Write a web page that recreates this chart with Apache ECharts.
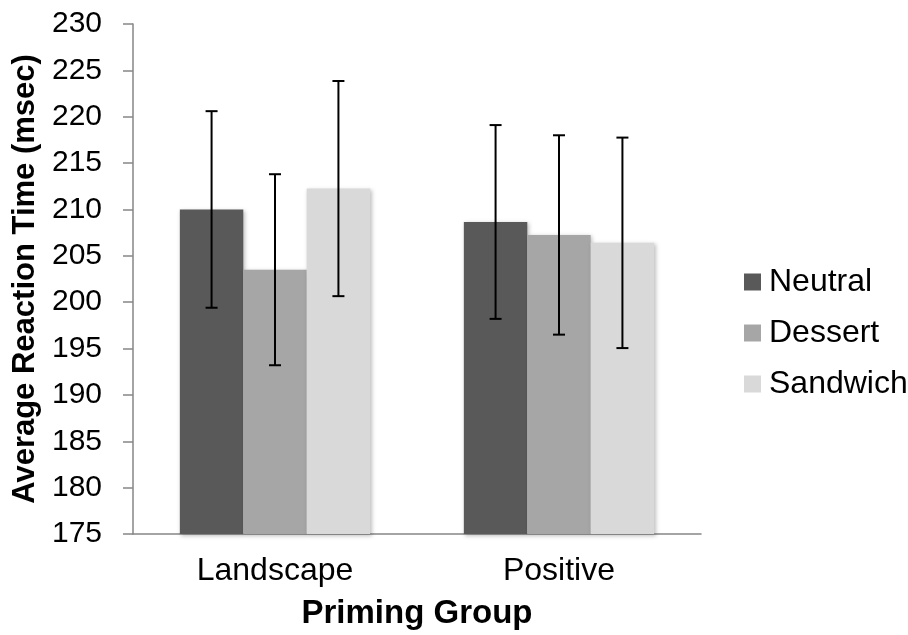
<!DOCTYPE html>
<html>
<head>
<meta charset="utf-8">
<script src="https://cdn.jsdelivr.net/npm/echarts@6/dist/echarts.min.js"></script>
<style>
  html, body { margin: 0; padding: 0; background: #ffffff; }
  #chart { width: 908px; height: 635px; }
</style>
</head>
<body>
<div id="chart"></div>
<script>
// Average reaction time by priming group and food cue
const categories = ['Landscape', 'Positive'];
const seriesNames = ['Neutral', 'Dessert', 'Sandwich'];
const neutral = [210.0, 208.65];
const dessert = [203.5, 207.25];
const sandwich = [212.25, 206.4];
const neutralErr = [10.6, 10.45];
const dessertErr = [10.3, 10.75];
const sandwichErr = [11.6, 11.35];
const yTicks = { min: 175, max: 230, step: 5 };

const colors = ['#595959', '#a6a6a6', '#d9d9d9'];
const means = [neutral, dessert, sandwich];
const errs = [neutralErr, dessertErr, sandwichErr];
const FONT = 'Liberation Sans, Arial, sans-serif';
const GAP = 0.33; // category gap fraction

const chart = echarts.init(document.getElementById('chart'));

const barSeries = seriesNames.map((name, i) => ({
  name: name,
  type: 'bar',
  data: means[i],
  barGap: '0%',
  barCategoryGap: (GAP * 100) + '%',
  itemStyle: {
    color: colors[i],
    shadowColor: 'rgba(0,0,0,0.25)',
    shadowBlur: 4,
    shadowOffsetX: 1.5,
    shadowOffsetY: 1.5
  },
  z: 2
}));

// Error bars drawn at the centre of each grouped bar
const errSeries = seriesNames.map((name, i) => ({
  type: 'custom',
  name: name + ' error',
  data: means[i].map((m, k) => [k, m - errs[i][k], m + errs[i][k]]),
  z: 5,
  silent: true,
  renderItem: function (params, api) {
    const band = api.size([1, 0])[0];
    const barW = band * (1 - GAP) / seriesNames.length;
    const offset = (i - (seriesNames.length - 1) / 2) * barW;
    const lo = api.coord([api.value(0), api.value(1)]);
    const hi = api.coord([api.value(0), api.value(2)]);
    const x = lo[0] + offset;
    const cap = 6;
    const style = { stroke: '#000000', lineWidth: 2, fill: null };
    return {
      type: 'group',
      children: [
        { type: 'line', shape: { x1: x, y1: hi[1], x2: x, y2: lo[1] }, style: style },
        { type: 'line', shape: { x1: x - cap, y1: hi[1], x2: x + cap, y2: hi[1] }, style: style },
        { type: 'line', shape: { x1: x - cap, y1: lo[1], x2: x + cap, y2: lo[1] }, style: style }
      ]
    };
  }
}));

chart.setOption({
  animation: false,
  backgroundColor: '#ffffff',
  textStyle: { fontFamily: FONT },
  grid: { left: 133, right: 207, top: 24, bottom: 101, containLabel: false },
  legend: {
    data: seriesNames.map((n, i) => ({ name: n, itemStyle: { color: colors[i] } })),
    orient: 'vertical',
    left: 744,
    top: 266,
    padding: 0,
    icon: 'rect',
    itemWidth: 17,
    itemHeight: 17,
    itemGap: 19,
    textStyle: { fontFamily: FONT, fontSize: 32, color: '#000000', padding: [0, 0, 0, 3] }
  },
  xAxis: {
    type: 'category',
    data: categories,
    name: 'Priming Group',
    nameLocation: 'middle',
    nameGap: 63,
    nameTextStyle: { fontFamily: FONT, fontSize: 33, fontWeight: 'bold', color: '#000000' },
    axisLine: { show: true, lineStyle: { color: '#868686', width: 1.5 } },
    axisTick: { show: false },
    axisLabel: { fontFamily: FONT, fontSize: 32, color: '#000000', margin: 21 },
    splitLine: { show: false }
  },
  yAxis: {
    type: 'value',
    min: yTicks.min,
    max: yTicks.max,
    interval: yTicks.step,
    name: 'Average Reaction Time (msec)',
    nameLocation: 'middle',
    nameGap: 87,
    nameTextStyle: { fontFamily: FONT, fontSize: 31, fontWeight: 'bold', color: '#000000' },
    axisLine: { show: true, lineStyle: { color: '#868686', width: 1.5 } },
    axisTick: { show: true, inside: false, length: 10, lineStyle: { color: '#868686', width: 1.5 } },
    axisLabel: { fontFamily: FONT, fontSize: 30, color: '#000000', margin: 31 },
    splitLine: { show: false }
  },
  series: barSeries.concat(errSeries)
});
</script>
</body>
</html>
